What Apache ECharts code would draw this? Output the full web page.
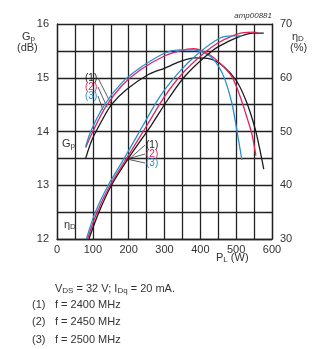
<!DOCTYPE html>
<html><head><meta charset="utf-8">
<script src="https://cdn.jsdelivr.net/npm/echarts@6/dist/echarts.min.js"></script>
<style>html,body{margin:0;padding:0;background:#fff}#c{width:325px;height:349px}</style>
</head><body><div id="c"></div>
<script>
// ---- data ----
var xTicks = [0, 100, 200, 300, 400, 500, 600];
var gpTicks = [12, 13, 14, 15, 16];
var etaTicks = [30, 40, 50, 60, 70];
var seriesNames = ['(1)', '(2)', '(3)'];
var freqLabels = ['f = 2400 MHz', 'f = 2450 MHz', 'f = 2500 MHz'];
// Gp (dB) vs PL (W)
var gp1 = [[80,13.5],[98,13.85],[125,14.2],[152,14.5],[194,14.78],[255,15.06],[301,15.18],[343,15.3],[385,15.37],[427,15.35],[465,15.21],[502,14.93],[530,14.53],[553,14.05],[565,13.7],[577,13.3]];
var gp2 = [[80,13.7],[100,14.0],[135,14.45],[182,14.86],[233,15.15],[301,15.41],[343,15.5],[380,15.54],[418,15.46],[455,15.27],[488,15.02],[511,14.65],[532,14.22],[544,13.95],[555,13.55]];
var gp3 = [[80,13.72],[96,14.03],[133,14.5],[180,14.9],[231,15.18],[301,15.46],[343,15.52],[380,15.52],[427,15.4],[451,15.21],[469,14.96],[488,14.53],[500,14.1],[516,13.47]];
// eta_D (%) vs PL (W)
var eta1 = [[89,30],[117,35],[152,40],[199,45],[264,51.25],[310,56],[360,60.5],[437,65.2],[480,66.8],[511,67.7],[545,68.3],[577,68.3]];
var eta2 = [[85,30],[112,35],[148,40],[194,45],[252,51.25],[300,56.5],[350,60.8],[409,64.5],[450,66.5],[493,67.9],[520,68.4],[549,68.5],[560,68.4]];
var eta3 = [[82,30],[107,35],[143,40],[187.5,45],[241,51.25],[287,56.5],[340,61],[390,64.3],[455,67.4],[490,67.8],[516,67.8]];

var colors = ['#1a1a1a', '#e0245e', '#2a8fd0'];
var FONT = 'Liberation Sans, Arial, sans-serif';
var chart = echarts.init(document.getElementById('c'));

function line(data, color, yIdx) {
  return {type:'line', data:data, yAxisIndex:yIdx, smooth:0.3, showSymbol:false,
          lineStyle:{color:color, width:1.3}, animation:false, z:3};
}
var axisLineStyle = {color:'#222', width:1.3};
var option = {
  animation:false,
  grid:{left:57, right:53, top:24, bottom:110, containLabel:false},
  xAxis:{type:'value', min:0, max:600, interval:50,
    axisLine:{show:true, lineStyle:axisLineStyle}, axisTick:{show:false},
    splitLine:{show:true, lineStyle:axisLineStyle},
    axisLabel:{color:'#333', fontSize:11, fontFamily:FONT, margin:5,
      formatter:function(v){return xTicks.indexOf(v)>=0 ? String(v) : '';}}},
  yAxis:[
    {type:'value', min:12, max:16, interval:0.5, position:'left',
     axisLine:{show:true, lineStyle:axisLineStyle}, axisTick:{show:false},
     splitLine:{show:true, lineStyle:axisLineStyle},
     axisLabel:{color:'#333', fontSize:11, fontFamily:FONT, margin:8,
       formatter:function(v){return gpTicks.indexOf(v)>=0 ? String(v) : '';}}},
    {type:'value', min:30, max:70, interval:5, position:'right',
     axisLine:{show:true, lineStyle:axisLineStyle}, axisTick:{show:false},
     splitLine:{show:false},
     axisLabel:{color:'#333', fontSize:11, fontFamily:FONT, margin:8,
       formatter:function(v){return etaTicks.indexOf(v)>=0 ? String(v) : '';}}}
  ],
  series:[
    line(gp1, colors[0], 0), line(gp2, colors[1], 0), line(gp3, colors[2], 0),
    line(eta1, colors[0], 1), line(eta2, colors[1], 1), line(eta3, colors[2], 1)
  ]
};
chart.setOption(option);

var richBase = {s:{fontSize:8, fontFamily:FONT, fill:'#333', padding:[5,0,0,0]}, n:{fontSize:11, fontFamily:FONT, fill:'#333'}};
function px(pt, yIdx){ return chart.convertToPixel({xAxisIndex:0, yAxisIndex:yIdx}, pt); }

var graphics = [];
// axis titles
graphics.push({type:'text', x:22, y:30, style:{text:'{n|G}{s|p}', rich:richBase}});
graphics.push({type:'text', x:17, y:42, style:{text:'(dB)', font:'11px '+FONT, fill:'#333'}});
graphics.push({type:'text', x:292, y:30, style:{text:'{n|η}{s|D}', rich:richBase}});
graphics.push({type:'text', x:290, y:42, style:{text:'(%)', font:'11px '+FONT, fill:'#333'}});
graphics.push({type:'text', x:272, y:12, style:{text:'amp00881', font:'italic 8px '+FONT, fill:'#333', align:'right'}});
graphics.push({type:'text', x:216, y:251, style:{text:'{n|P}{s|L}{n| (W)}', rich:richBase}});
graphics.push({type:'text', x:62, y:137, style:{text:'{n|G}{s|p}', rich:richBase}});
graphics.push({type:'text', x:64, y:218, style:{text:'{n|η}{s|D}', rich:richBase}});
// footnotes
graphics.push({type:'text', x:55, y:282, style:{text:'{n|V}{s|DS}{n| = 32 V; I}{s|Dq}{n| = 20 mA.}', rich:richBase}});
for (var i=0;i<3;i++){
  graphics.push({type:'text', x:32, y:299+i*17.5, style:{text:seriesNames[i], font:'11px '+FONT, fill:'#333'}});
  graphics.push({type:'text', x:55, y:299+i*17.5, style:{text:freqLabels[i], font:'11px '+FONT, fill:'#333'}});
}
// leader labels for Gp group
var gpTargets = [[152,14.5],[140,14.45],[128,14.4]];
for (var i=0;i<3;i++){
  var ly = 73 + i*9;
  graphics.push({type:'text', x:85, y:ly, style:{text:seriesNames[i], font:'10px '+FONT, fill:colors[i]}});
  var p = px(gpTargets[i], 0);
  graphics.push({type:'line', shape:{x1:98, y1:ly+5, x2:p[0], y2:p[1]}, style:{stroke:'#333', lineWidth:0.8}});
}
// leader labels for eta group
var etaTargets = [[197,44.6],[192,44.8],[187,45]];
for (var i=0;i<3;i++){
  var ly2 = 140 + i*9;
  graphics.push({type:'text', x:146, y:ly2, style:{text:seriesNames[i], font:'10px '+FONT, fill:colors[i]}});
  var p2 = px(etaTargets[i], 1);
  graphics.push({type:'line', shape:{x1:145, y1:ly2+5, x2:p2[0], y2:p2[1]}, style:{stroke:'#333', lineWidth:0.8}});
}
chart.setOption({graphic:graphics});
</script>
</body></html>
